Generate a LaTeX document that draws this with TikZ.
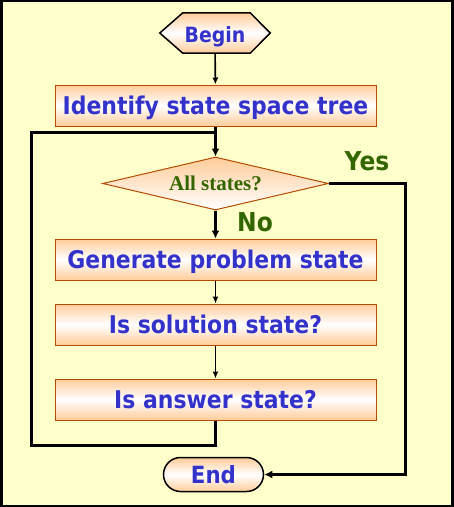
\documentclass[tikz,border=0pt]{standalone}
\usepackage{fontspec}
\setmainfont[FakeStretch=0.9]{DejaVu Sans}
\newfontfamily\serifb{Liberation Serif}
\usetikzlibrary{shapes.geometric,shapes.misc,arrows.meta,backgrounds}
\definecolor{bgyellow}{HTML}{FFFFCC}
\definecolor{peach}{HTML}{FFCC99}
\definecolor{boxedge}{HTML}{B24C00}
\definecolor{txtblue}{HTML}{3333CC}
\definecolor{txtgreen}{HTML}{336600}
\tikzset{
  shadefill/.style={top color=peach, bottom color=peach, middle color=white},
  procbox/.style={rectangle, draw=boxedge, line width=1pt, shadefill,
    minimum width=321pt, minimum height=41pt, inner sep=0pt,
    text height=17.8pt, text depth=0pt,
    font=\fontsize{24.4}{28}\selectfont\bfseries, text=txtblue},
  termhex/.style={rectangle, minimum width=110pt, minimum height=40pt, inner sep=0pt,
    text height=15.3pt, text depth=0pt,
    font=\fontsize{21}{24}\selectfont\bfseries, text=txtblue},
  hexoutline/.style={draw=black, line width=1.5pt, shadefill},
  termend/.style={rounded rectangle, draw=black, line width=1.5pt, shadefill,
    minimum width=100pt, minimum height=34pt, inner sep=0pt,
    text height=17.3pt, text depth=0pt,
    font=\fontsize{23.7}{26}\selectfont\bfseries, text=txtblue},
  decide/.style={diamond, aspect=4.3, draw=boxedge, line width=1pt,
    top color=peach, bottom color=white,
    minimum width=226pt, minimum height=53pt, inner sep=0pt,
    text height=14pt, text depth=0pt,
    font=\fontsize{21}{24}\selectfont\serifb\bfseries, text=txtgreen},
  branchlbl/.style={font=\fontsize{26}{28}\selectfont\bfseries, text=txtgreen, inner sep=0pt,
    text height=19pt, text depth=0pt},
  thinarrow/.style={draw=black, line width=1.6pt, -{Latex[length=7pt,width=6pt]}},
  thickline/.style={draw=black, line width=3pt},
  thickarrow/.style={thickline, -{Latex[length=8pt,width=8pt]}},
}
\begin{document}
\begin{tikzpicture}[x=1pt,y=-1pt]
\useasboundingbox (0,0) rectangle (454,507);
\begin{scope}[on background layer]
\fill[black] (0,0) rectangle (454,507);
\fill[bgyellow] (3,2) rectangle (451,505);
\end{scope}

\node[termhex] (begin) at (215,33) {\raisebox{-1.5pt}{Begin}};
\node[procbox] (identify) at (215.5,105.5) {Identify state space tree};
\node[decide] (allst) at (215.5,183.5) {All states?};
\node[procbox] (generate) at (215.5,259.5) {Generate problem state};
\node[procbox] (solution) at (215.5,324.5) {Is solution state?};
\node[procbox] (answer) at (215.5,399.5) {Is answer state?};
\node[termend] (end) at (213.5,474.5) {End};

\begin{scope}[on background layer]
\path[hexoutline] (begin.west) -- ([xshift=23pt]begin.north west)
  -- ([xshift=-20pt]begin.north east) -- (begin.east)
  -- ([xshift=-20pt]begin.south east) -- ([xshift=23pt]begin.south west) -- cycle;
\end{scope}

\node[branchlbl] (yes) at (367,161) {Yes};
\node[branchlbl] (no) at (255,221.5) {No};

\coordinate (lb) at (31,445);
\coordinate (lt) at (31,132);
\coordinate (join) at (215.5,132);
\coordinate (rx) at (405,300);

\draw[thinarrow] (begin) -- (identify);
\draw[thickarrow] (identify) -- (allst);
\draw[thickline] (answer.south) |- (lb) -- (lt) -- (join);
\draw[thickarrow] (allst.east) -| (rx) |- (end.east);
\draw[thickarrow] (allst.south) -- (generate.north);
\draw[thinarrow] (generate) -- (solution);
\draw[thinarrow] (solution) -- (answer);
\end{tikzpicture}
\end{document}
